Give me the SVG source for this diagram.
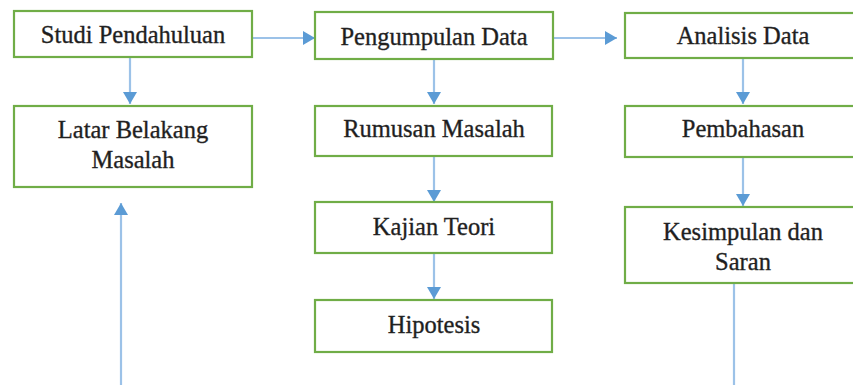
<svg xmlns="http://www.w3.org/2000/svg" width="853" height="385" viewBox="0 0 853 385">
<style>
.box{fill:#fff;stroke:#70ad47;stroke-width:2.2}
.t{font-family:"Liberation Serif","Times New Roman",serif;font-size:24.5px;fill:#1e1e1e;stroke:#2a2a2a;stroke-width:0.35;text-anchor:middle}
.c{stroke:#9cc2e8;stroke-width:2.2;fill:none}
</style>
<defs>
<marker id="ah" viewBox="0 0 12 14" refX="12" refY="7" markerWidth="12" markerHeight="14" markerUnits="userSpaceOnUse" orient="auto">
<path d="M0,0 L12,7 L0,14 z" fill="#5b9bd5"/>
</marker>
</defs>
<rect width="853" height="385" fill="#fff"/>
<g id="connectors">
<line class="c" x1="252" y1="38" x2="315" y2="38" marker-end="url(#ah)"/>
<line class="c" x1="553" y1="38" x2="617" y2="38" marker-end="url(#ah)"/>
<line class="c" x1="130" y1="57" x2="130" y2="104" marker-end="url(#ah)"/>
<line class="c" x1="434" y1="59" x2="434" y2="104" marker-end="url(#ah)"/>
<line class="c" x1="434" y1="156" x2="434" y2="202" marker-end="url(#ah)"/>
<line class="c" x1="434" y1="253" x2="434" y2="299" marker-end="url(#ah)"/>
<line class="c" x1="743" y1="58" x2="743" y2="104" marker-end="url(#ah)"/>
<line class="c" x1="743" y1="157" x2="743" y2="206" marker-end="url(#ah)"/>
<line class="c" x1="121" y1="385" x2="121" y2="203" marker-end="url(#ah)"/>
<line class="c" x1="734" y1="283" x2="734" y2="385"/>
</g>
<g id="studi"><rect class="box" x="14" y="11" width="238" height="46"/><text class="t" x="133" y="43">Studi Pendahuluan</text></g>
<g id="latar"><rect class="box" x="14" y="106" width="238" height="81"/><text class="t" x="133" y="138">Latar Belakang</text><text class="t" x="133" y="168">Masalah</text></g>
<g id="pengumpulan"><rect class="box" x="315" y="12" width="238" height="47"/><text class="t" x="434" y="45">Pengumpulan Data</text></g>
<g id="rumusan"><rect class="box" x="315" y="106" width="237" height="50"/><text class="t" x="434" y="137">Rumusan Masalah</text></g>
<g id="kajian"><rect class="box" x="315" y="202" width="237" height="51"/><text class="t" x="434" y="235">Kajian Teori</text></g>
<g id="hipotesis"><rect class="box" x="315" y="300" width="237" height="52"/><text class="t" x="434" y="333">Hipotesis</text></g>
<g id="analisis"><rect class="box" x="625" y="13" width="237" height="45"/><text class="t" x="743" y="44">Analisis Data</text></g>
<g id="pembahasan"><rect class="box" x="625" y="106" width="237" height="51"/><text class="t" x="743" y="137">Pembahasan</text></g>
<g id="kesimpulan"><rect class="box" x="625" y="207" width="237" height="76"/><text class="t" x="743" y="240">Kesimpulan dan</text><text class="t" x="743" y="270">Saran</text></g>
</svg>
